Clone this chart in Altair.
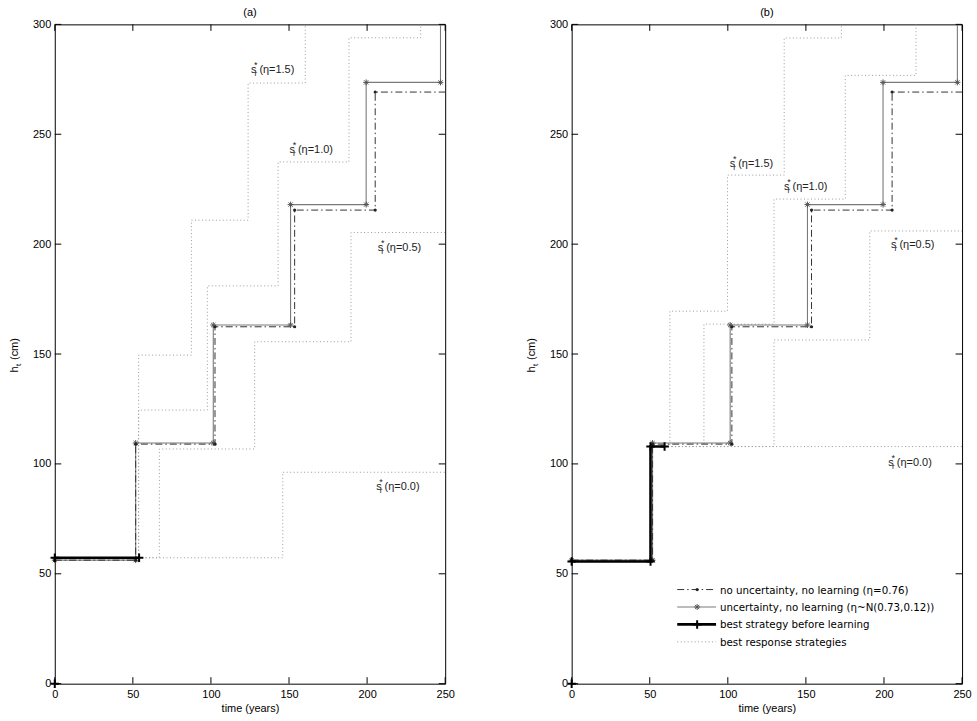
import altair as alt
import pandas as pd

FONT = "Liberation Sans"
LEG_FONT = "DejaVu Sans"
W, H = 392, 662
T_END = 250.0

x_ticks = [0, 50, 100, 150, 200, 250]
y_ticks = [0, 50, 100, 150, 200, 250, 300]

# ---- strategies: start point, switch times (years), heights after switch (cm) ----
# no uncertainty, no learning (eta = 0.76)  -- same in both panels
nolearn_start = (0.0, 56.2)
nolearn_t = [51.8, 102.6, 153.6, 205.2]
nolearn_h = [109.0, 162.4, 215.5, 269.2]

# uncertainty, no learning (eta ~ N(0.73, 0.12))
uncert_start = (0.0, 56.2)
uncert_t = [51.8, 101.5, 151.0, 199.4, 247.0]
uncert_h = [109.5, 163.2, 218.0, 273.6, 320.0]

# best strategy before learning (plus its marker at the origin)
best_origin = (0.0, 0.0)
a_best_start = (0.0, 57.3)
a_best_t = []
a_best_h = []
a_best_end = 54.0

b_best_start = (0.0, 55.6)
b_best_t = [50.5]
b_best_h = [107.9]
b_best_end = 59.5

# best response strategies, panel (a)
a_resp_start = (53.7, 57.3)
a_eta15_t = [53.7, 87.5, 123.8, 160.4]
a_eta15_h = [149.5, 210.9, 273.3, 320.0]
a_eta10_t = [53.7, 97.7, 143.0, 188.4, 234.3]
a_eta10_h = [124.5, 181.0, 237.4, 293.9, 320.0]
a_eta05_t = [67.0, 128.0, 189.7]
a_eta05_h = [106.8, 155.6, 205.3]
a_eta00_t = [146.0]
a_eta00_h = [96.2]

# best response strategies, panel (b)
b_resp_start = (59.5, 107.9)
b_eta15_t = [62.9, 99.8, 136.1, 172.7]
b_eta15_h = [169.5, 231.4, 293.8, 320.0]
b_eta10_t = [84.7, 129.6, 175.2, 220.5]
b_eta10_h = [163.6, 220.5, 276.8, 320.0]
b_eta05_t = [129.6, 190.9]
b_eta05_h = [156.4, 206.0]
b_eta00_t = []
b_eta00_h = []

# annotation labels s_r*(eta=...)
eta_labels = ["(η=1.5)", "(η=1.0)", "(η=0.5)", "(η=0.0)"]
a_label_t = [125.6, 150.3, 206.8, 205.8]
a_label_h = [279.1, 242.9, 198.3, 89.3]
b_label_t = [101.2, 136.0, 204.5, 202.8]
b_label_h = [236.5, 226.0, 199.4, 100.6]

legend_labels = [
    "no uncertainty, no learning (η=0.76)",
    "uncertainty, no learning (η~N(0.73,0.12))",
    "best strategy before learning",
    "best response strategies",
]

PLUS = "M-1,0L1,0M0,-1L0,1"
STAR = "M-1,0L1,0M0,-1L0,1M-0.7,-0.7L0.7,0.7M-0.7,0.7L0.7,-0.7"

DASHDOT = [7, 3, 1.5, 3]
DOTTED = [1, 2.5]
C_DASHDOT = "#333333"
C_UNC = "#7a7a7a"
C_DOT = "#9a9a9a"


def steps(start, ts, hs, t_end):
    t0, h0 = start
    pts = [(t0, h0)]
    prev = h0
    for t, h in zip(ts, hs):
        pts.append((t, prev))
        pts.append((t, h))
        prev = h
    pts.append((t_end, prev))
    out = []
    for p in pts:
        if not out or out[-1] != p:
            out.append(p)
    return out


def frame(series, pts, mark_last):
    rows = []
    n = len(pts)
    for i, (t, h) in enumerate(pts):
        m = (i < n - 1 or mark_last) and h <= 300
        rows.append(dict(series=series, i=i, t=t, h=h, mark=m))
    return rows


def make_panel(title, best, dotted, lab_t, lab_h, legend):
    rows = []
    rows += frame("nolearn", steps(nolearn_start, nolearn_t, nolearn_h, T_END), False)
    rows += frame("uncert", steps(uncert_start, uncert_t, uncert_h, T_END), False)
    rows += frame("best", best, True)
    rows.append(dict(series="origin", i=0, t=best_origin[0], h=best_origin[1], mark=True))
    for k, pts in enumerate(dotted):
        rows += frame("resp%d" % k, pts, False)
    df = pd.DataFrame(rows)
    df["kind"] = df["series"].where(~df["series"].str.startswith("resp"), "resp")

    xs = alt.Scale(domain=[0, 250], nice=False, zero=False)
    ys = alt.Scale(domain=[0, 300], nice=False, zero=False)
    X = alt.X("t:Q", scale=xs, axis=alt.Axis(
        values=x_ticks, ticks=False, domain=False, grid=False, labelFlush=False,
        labelFont=FONT, labelFontSize=11, labelColor="black", labelPadding=5,
        title="time (years)", titleFont=FONT, titleFontSize=11,
        titleFontWeight="normal", titleColor="black", titlePadding=3))
    Y = alt.Y("h:Q", scale=ys, axis=alt.Axis(
        values=y_ticks, ticks=False, domain=False, grid=False, labelFlush=False,
        labelFont=FONT, labelFontSize=11, labelColor="black", labelPadding=4,
        title=None))

    base = alt.Chart(df)
    layers = []
    layers.append(base.transform_filter(alt.datum.kind == "resp").mark_line(
        color=C_DOT, strokeDash=DOTTED, strokeWidth=1, clip=True).encode(
        x=X, y=Y, detail="series:N", order="i:Q"))
    layers.append(base.transform_filter(alt.datum.kind == "uncert").mark_line(
        color=C_UNC, strokeWidth=1.1, clip=True).encode(x="t:Q", y="h:Q", order="i:Q"))
    layers.append(base.transform_filter(alt.datum.kind == "nolearn").mark_line(
        color=C_DASHDOT, strokeDash=DASHDOT, strokeWidth=1, clip=True).encode(
        x="t:Q", y="h:Q", order="i:Q"))
    layers.append(base.transform_filter((alt.datum.kind == "uncert") & alt.datum.mark).mark_point(
        shape=STAR, size=36, filled=False, color="#555555", strokeWidth=1, opacity=1).encode(
        x="t:Q", y="h:Q"))
    layers.append(base.transform_filter((alt.datum.kind == "nolearn") & alt.datum.mark).mark_point(
        shape="circle", size=10, filled=True, color="#222222", opacity=1).encode(
        x="t:Q", y="h:Q"))
    layers.append(base.transform_filter(alt.datum.kind == "best").mark_line(
        color="black", strokeWidth=2.6).encode(x="t:Q", y="h:Q", order="i:Q"))
    layers.append(base.transform_filter(
        ((alt.datum.kind == "best") | (alt.datum.kind == "origin")) & alt.datum.mark).mark_point(
        shape=PLUS, size=72, filled=False, color="black", strokeWidth=2, opacity=1).encode(
        x="t:Q", y="h:Q"))

    # inward ticks
    xt = alt.Chart(pd.DataFrame({"t": x_ticks}))
    yt = alt.Chart(pd.DataFrame({"h": y_ticks}))
    layers.append(xt.mark_rule(color="black", strokeWidth=1).encode(
        x="t:Q", y=alt.value(H), y2=alt.value(H - 6.5)))
    layers.append(xt.mark_rule(color="black", strokeWidth=1).encode(
        x="t:Q", y=alt.value(0), y2=alt.value(6.5)))
    layers.append(yt.mark_rule(color="black", strokeWidth=1).encode(
        y="h:Q", x=alt.value(0), x2=alt.value(6.5)))
    layers.append(yt.mark_rule(color="black", strokeWidth=1).encode(
        y="h:Q", x=alt.value(W - 6.5), x2=alt.value(W)))

    # annotations s_r*(eta=..)
    lab = alt.Chart(pd.DataFrame({"t": lab_t, "h": lab_h, "label": eta_labels}))
    tkw = dict(font=FONT, color="#222222", align="left", baseline="middle")
    layers.append(lab.mark_text(text="s", fontSize=11, **tkw).encode(x="t:Q", y="h:Q"))
    layers.append(lab.mark_text(text="*", fontSize=9, dx=3.2, dy=-5, **tkw).encode(x="t:Q", y="h:Q"))
    layers.append(lab.mark_text(text="r", fontSize=8, dx=3.6, dy=4, **tkw).encode(x="t:Q", y="h:Q"))
    layers.append(lab.mark_text(fontSize=11, dx=8.5, **tkw).encode(x="t:Q", y="h:Q", text="label:N"))

    # y-axis title h_t (cm)
    ykw = dict(font=FONT, color="black", align="left", baseline="middle", angle=270)
    layers.append(alt.Chart(pd.DataFrame({"s": ["h"]})).mark_text(fontSize=11, dx=-18.5, **ykw).encode(
        x=alt.value(-40), y=alt.value(H / 2), text="s:N"))
    layers.append(alt.Chart(pd.DataFrame({"s": ["t"]})).mark_text(fontSize=8, dx=-12, dy=4, **ykw).encode(
        x=alt.value(-40), y=alt.value(H / 2), text="s:N"))
    layers.append(alt.Chart(pd.DataFrame({"s": ["(cm)"]})).mark_text(fontSize=11, dx=-6, **ykw).encode(
        x=alt.value(-40), y=alt.value(H / 2), text="s:N"))

    if legend:
        rows_y = [567.5, 585.0, 602.5, 620.0]
        lx0, lx1, lm, ltx = 106, 145, 126, 149
        styles = [
            dict(color=C_DASHDOT, strokeDash=DASHDOT, strokeWidth=1),
            dict(color=C_UNC, strokeWidth=1.1),
            dict(color="black", strokeWidth=2.6),
            dict(color=C_DOT, strokeDash=DOTTED, strokeWidth=1),
        ]
        for k, (lbl, yy, st) in enumerate(zip(legend_labels, rows_y, styles)):
            d = alt.Chart(pd.DataFrame({"label": [lbl]}))
            layers.append(d.mark_rule(**st).encode(
                x=alt.value(lx0), x2=alt.value(lx1), y=alt.value(yy)))
            if k == 0:
                layers.append(d.mark_point(shape="circle", size=10, filled=True,
                                           color="#222222", opacity=1).encode(
                    x=alt.value(lm), y=alt.value(yy)))
            elif k == 1:
                layers.append(d.mark_point(shape=STAR, size=36, filled=False,
                                           color="#555555", strokeWidth=1, opacity=1).encode(
                    x=alt.value(lm), y=alt.value(yy)))
            elif k == 2:
                layers.append(d.mark_point(shape=PLUS, size=72, filled=False,
                                           color="black", strokeWidth=2, opacity=1).encode(
                    x=alt.value(lm), y=alt.value(yy)))
            layers.append(d.mark_text(font=LEG_FONT, fontSize=10.3, color="black", align="left",
                                      baseline="middle", dy=1).encode(
                x=alt.value(ltx), y=alt.value(yy), text="label:N"))

    return alt.layer(*layers).properties(
        width=W, height=H,
        title=alt.TitleParams(title, font=FONT, fontSize=11, fontWeight="normal",
                              color="black", offset=0, anchor="middle"))


a_dotted = [
    steps(a_resp_start, a_eta15_t, a_eta15_h, T_END),
    steps(a_resp_start, a_eta10_t, a_eta10_h, T_END),
    steps(a_resp_start, a_eta05_t, a_eta05_h, T_END),
    steps(a_resp_start, a_eta00_t, a_eta00_h, T_END),
]
b_dotted = [
    steps(b_resp_start, b_eta15_t, b_eta15_h, T_END),
    steps(b_resp_start, b_eta10_t, b_eta10_h, T_END),
    steps(b_resp_start, b_eta05_t, b_eta05_h, T_END),
    steps(b_resp_start, b_eta00_t, b_eta00_h, T_END),
]

panel_a = make_panel("(a)", steps(a_best_start, a_best_t, a_best_h, a_best_end),
                     a_dotted, a_label_t, a_label_h, False)
panel_b = make_panel("(b)", steps(b_best_start, b_best_t, b_best_h, b_best_end),
                     b_dotted, b_label_t, b_label_h, True)

chart = alt.hconcat(panel_a, panel_b, spacing=70).properties(
    padding={"left": 8, "top": 5, "right": 5, "bottom": 5},
    background="white",
).configure_view(stroke="black", strokeWidth=1)

chart.save("out.html", embed_options={"renderer": "svg", "actions": False})
